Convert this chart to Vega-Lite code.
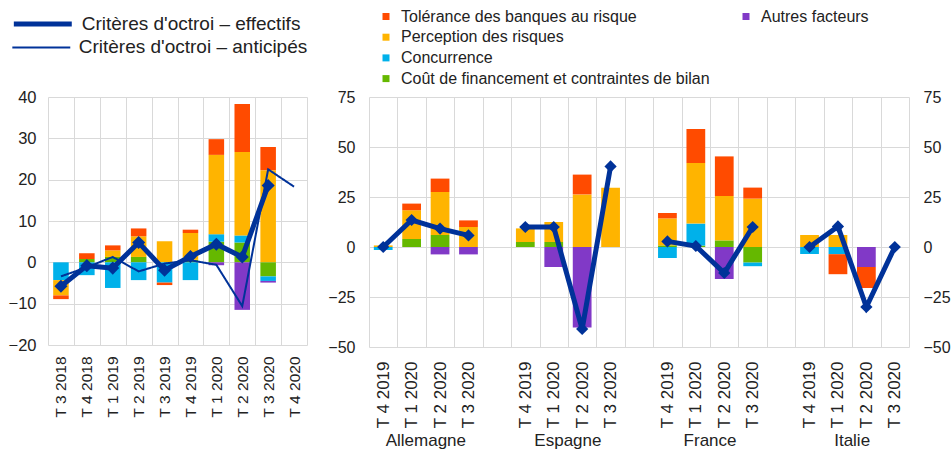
{
  "$schema": "https://vega.github.io/schema/vega-lite/v6.json",
  "background": "white",
  "padding": 8,
  "config": {
    "font": "Liberation Sans",
    "view": {"stroke": null},
    "axis": {"labelColor": "#222222", "gridColor": "#d9d9d9", "domain": false, "ticks": false, "title": null},
    "legend": {"labelColor": "#222222", "title": null, "labelLimit": 500}
  },
  "datasets": {
    "facteurs": [
      {"facteur": "Coût de financement et contraintes de bilan", "rang": 1},
      {"facteur": "Concurrence", "rang": 2},
      {"facteur": "Perception des risques", "rang": 3},
      {"facteur": "Autres facteurs", "rang": 4},
      {"facteur": "Tolérance des banques au risque", "rang": 5}
    ],
    "zone_barres": [
      {"trimestre": "T 3 2018", "facteur": "Concurrence", "valeur": -4.3},
      {"trimestre": "T 3 2018", "facteur": "Perception des risques", "valeur": -3.7},
      {"trimestre": "T 3 2018", "facteur": "Tolérance des banques au risque", "valeur": -0.9},
      {"trimestre": "T 4 2018", "facteur": "Coût de financement et contraintes de bilan", "valeur": 0.8},
      {"trimestre": "T 4 2018", "facteur": "Tolérance des banques au risque", "valeur": 1.4},
      {"trimestre": "T 4 2018", "facteur": "Concurrence", "valeur": -3.1},
      {"trimestre": "T 1 2019", "facteur": "Coût de financement et contraintes de bilan", "valeur": 1.3},
      {"trimestre": "T 1 2019", "facteur": "Perception des risques", "valeur": 1.6},
      {"trimestre": "T 1 2019", "facteur": "Tolérance des banques au risque", "valeur": 1.2},
      {"trimestre": "T 1 2019", "facteur": "Concurrence", "valeur": -6.2},
      {"trimestre": "T 2 2019", "facteur": "Coût de financement et contraintes de bilan", "valeur": 1.3},
      {"trimestre": "T 2 2019", "facteur": "Perception des risques", "valeur": 5.0},
      {"trimestre": "T 2 2019", "facteur": "Tolérance des banques au risque", "valeur": 1.9},
      {"trimestre": "T 2 2019", "facteur": "Concurrence", "valeur": -4.3},
      {"trimestre": "T 3 2019", "facteur": "Perception des risques", "valeur": 5.1},
      {"trimestre": "T 3 2019", "facteur": "Concurrence", "valeur": -4.9},
      {"trimestre": "T 3 2019", "facteur": "Tolérance des banques au risque", "valeur": -0.6},
      {"trimestre": "T 4 2019", "facteur": "Coût de financement et contraintes de bilan", "valeur": 0.6},
      {"trimestre": "T 4 2019", "facteur": "Perception des risques", "valeur": 6.5},
      {"trimestre": "T 4 2019", "facteur": "Tolérance des banques au risque", "valeur": 0.8},
      {"trimestre": "T 4 2019", "facteur": "Concurrence", "valeur": -4.3},
      {"trimestre": "T 1 2020", "facteur": "Coût de financement et contraintes de bilan", "valeur": 5.0},
      {"trimestre": "T 1 2020", "facteur": "Concurrence", "valeur": 1.8},
      {"trimestre": "T 1 2020", "facteur": "Perception des risques", "valeur": 19.2},
      {"trimestre": "T 1 2020", "facteur": "Tolérance des banques au risque", "valeur": 3.8},
      {"trimestre": "T 1 2020", "facteur": "Autres facteurs", "valeur": -0.7},
      {"trimestre": "T 2 2020", "facteur": "Coût de financement et contraintes de bilan", "valeur": 4.8},
      {"trimestre": "T 2 2020", "facteur": "Concurrence", "valeur": 1.7},
      {"trimestre": "T 2 2020", "facteur": "Perception des risques", "valeur": 20.2},
      {"trimestre": "T 2 2020", "facteur": "Tolérance des banques au risque", "valeur": 11.6},
      {"trimestre": "T 2 2020", "facteur": "Autres facteurs", "valeur": -11.5},
      {"trimestre": "T 3 2020", "facteur": "Perception des risques", "valeur": 22.3},
      {"trimestre": "T 3 2020", "facteur": "Tolérance des banques au risque", "valeur": 5.6},
      {"trimestre": "T 3 2020", "facteur": "Coût de financement et contraintes de bilan", "valeur": -3.4},
      {"trimestre": "T 3 2020", "facteur": "Concurrence", "valeur": -1.1},
      {"trimestre": "T 3 2020", "facteur": "Autres facteurs", "valeur": -0.4}
    ],
    "zone_effectifs": [
      {"trimestre": "T 3 2018", "serie": "Critères d'octroi – effectifs", "valeur": -5.8},
      {"trimestre": "T 4 2018", "serie": "Critères d'octroi – effectifs", "valeur": -0.8},
      {"trimestre": "T 1 2019", "serie": "Critères d'octroi – effectifs", "valeur": -1.4},
      {"trimestre": "T 2 2019", "serie": "Critères d'octroi – effectifs", "valeur": 4.8},
      {"trimestre": "T 3 2019", "serie": "Critères d'octroi – effectifs", "valeur": -1.9},
      {"trimestre": "T 4 2019", "serie": "Critères d'octroi – effectifs", "valeur": 1.4},
      {"trimestre": "T 1 2020", "serie": "Critères d'octroi – effectifs", "valeur": 4.4},
      {"trimestre": "T 2 2020", "serie": "Critères d'octroi – effectifs", "valeur": 1.3},
      {"trimestre": "T 3 2020", "serie": "Critères d'octroi – effectifs", "valeur": 18.6}
    ],
    "zone_anticipes": [
      {"trimestre": "T 3 2018", "serie": "Critères d'octroi – anticipés", "valeur": -3.4},
      {"trimestre": "T 4 2018", "serie": "Critères d'octroi – anticipés", "valeur": -1.2},
      {"trimestre": "T 1 2019", "serie": "Critères d'octroi – anticipés", "valeur": 1.3},
      {"trimestre": "T 2 2019", "serie": "Critères d'octroi – anticipés", "valeur": -2.2},
      {"trimestre": "T 3 2019", "serie": "Critères d'octroi – anticipés", "valeur": -0.3},
      {"trimestre": "T 4 2019", "serie": "Critères d'octroi – anticipés", "valeur": 0.5},
      {"trimestre": "T 1 2020", "serie": "Critères d'octroi – anticipés", "valeur": -0.6},
      {"trimestre": "T 2 2020", "serie": "Critères d'octroi – anticipés", "valeur": -10.6},
      {"trimestre": "T 3 2020", "serie": "Critères d'octroi – anticipés", "valeur": 22.5},
      {"trimestre": "T 4 2020", "serie": "Critères d'octroi – anticipés", "valeur": 18.3}
    ],
    "pays_barres": [
      {"slot": "T 4 2019", "facteur": "Perception des risques", "valeur": 0.8},
      {"slot": "T 4 2019", "facteur": "Concurrence", "valeur": -1.5},
      {"slot": "T 1 2020", "facteur": "Coût de financement et contraintes de bilan", "valeur": 4.0},
      {"slot": "T 1 2020", "facteur": "Perception des risques", "valeur": 14.4},
      {"slot": "T 1 2020", "facteur": "Tolérance des banques au risque", "valeur": 3.3},
      {"slot": "T 2 2020", "facteur": "Coût de financement et contraintes de bilan", "valeur": 6.0},
      {"slot": "T 2 2020", "facteur": "Perception des risques", "valeur": 21.5},
      {"slot": "T 2 2020", "facteur": "Tolérance des banques au risque", "valeur": 6.7},
      {"slot": "T 2 2020", "facteur": "Autres facteurs", "valeur": -3.7},
      {"slot": "T 3 2020", "facteur": "Perception des risques", "valeur": 10.0},
      {"slot": "T 3 2020", "facteur": "Tolérance des banques au risque", "valeur": 3.3},
      {"slot": "T 3 2020", "facteur": "Autres facteurs", "valeur": -3.7},
      {"slot": " T 4 2019", "facteur": "Coût de financement et contraintes de bilan", "valeur": 2.5},
      {"slot": " T 4 2019", "facteur": "Perception des risques", "valeur": 6.8},
      {"slot": " T 1 2020", "facteur": "Coût de financement et contraintes de bilan", "valeur": 2.5},
      {"slot": " T 1 2020", "facteur": "Perception des risques", "valeur": 10.0},
      {"slot": " T 1 2020", "facteur": "Autres facteurs", "valeur": -10.0},
      {"slot": " T 2 2020", "facteur": "Perception des risques", "valeur": 26.3},
      {"slot": " T 2 2020", "facteur": "Tolérance des banques au risque", "valeur": 9.9},
      {"slot": " T 2 2020", "facteur": "Autres facteurs", "valeur": -40.3},
      {"slot": " T 3 2020", "facteur": "Perception des risques", "valeur": 29.6},
      {"slot": "  T 4 2019", "facteur": "Coût de financement et contraintes de bilan", "valeur": 0.8},
      {"slot": "  T 4 2019", "facteur": "Perception des risques", "valeur": 13.5},
      {"slot": "  T 4 2019", "facteur": "Tolérance des banques au risque", "valeur": 2.7},
      {"slot": "  T 4 2019", "facteur": "Concurrence", "valeur": -5.5},
      {"slot": "  T 1 2020", "facteur": "Coût de financement et contraintes de bilan", "valeur": 0.7},
      {"slot": "  T 1 2020", "facteur": "Concurrence", "valeur": 11.0},
      {"slot": "  T 1 2020", "facteur": "Perception des risques", "valeur": 30.3},
      {"slot": "  T 1 2020", "facteur": "Tolérance des banques au risque", "valeur": 17.0},
      {"slot": "  T 2 2020", "facteur": "Coût de financement et contraintes de bilan", "valeur": 3.3},
      {"slot": "  T 2 2020", "facteur": "Perception des risques", "valeur": 22.2},
      {"slot": "  T 2 2020", "facteur": "Tolérance des banques au risque", "valeur": 19.8},
      {"slot": "  T 2 2020", "facteur": "Autres facteurs", "valeur": -16.0},
      {"slot": "  T 3 2020", "facteur": "Perception des risques", "valeur": 24.2},
      {"slot": "  T 3 2020", "facteur": "Tolérance des banques au risque", "valeur": 5.5},
      {"slot": "  T 3 2020", "facteur": "Coût de financement et contraintes de bilan", "valeur": -7.8},
      {"slot": "  T 3 2020", "facteur": "Concurrence", "valeur": -1.8},
      {"slot": "   T 4 2019", "facteur": "Perception des risques", "valeur": 6.0},
      {"slot": "   T 4 2019", "facteur": "Concurrence", "valeur": -3.5},
      {"slot": "   T 1 2020", "facteur": "Perception des risques", "valeur": 6.0},
      {"slot": "   T 1 2020", "facteur": "Concurrence", "valeur": -3.6},
      {"slot": "   T 1 2020", "facteur": "Tolérance des banques au risque", "valeur": -10.0},
      {"slot": "   T 2 2020", "facteur": "Autres facteurs", "valeur": -10.0},
      {"slot": "   T 2 2020", "facteur": "Tolérance des banques au risque", "valeur": -10.5}
    ],
    "pays_lignes": [
      {"slot": "T 4 2019", "pays": "Allemagne", "valeur": 0},
      {"slot": "T 1 2020", "pays": "Allemagne", "valeur": 13.5},
      {"slot": "T 2 2020", "pays": "Allemagne", "valeur": 9.2},
      {"slot": "T 3 2020", "pays": "Allemagne", "valeur": 5.8},
      {"slot": " T 4 2019", "pays": "Espagne", "valeur": 10},
      {"slot": " T 1 2020", "pays": "Espagne", "valeur": 10},
      {"slot": " T 2 2020", "pays": "Espagne", "valeur": -41},
      {"slot": " T 3 2020", "pays": "Espagne", "valeur": 40.3},
      {"slot": "  T 4 2019", "pays": "France", "valeur": 2.8},
      {"slot": "  T 1 2020", "pays": "France", "valeur": 0.5},
      {"slot": "  T 2 2020", "pays": "France", "valeur": -13},
      {"slot": "  T 3 2020", "pays": "France", "valeur": 10},
      {"slot": "   T 4 2019", "pays": "Italie", "valeur": 0},
      {"slot": "   T 1 2020", "pays": "Italie", "valeur": 10.3},
      {"slot": "   T 2 2020", "pays": "Italie", "valeur": -30},
      {"slot": "   T 3 2020", "pays": "Italie", "valeur": 0}
    ],
    "pays_noms": [
      {"slot": "T 1 2020", "pays": "Allemagne"},
      {"slot": " T 1 2020", "pays": "Espagne"},
      {"slot": "  T 1 2020", "pays": "France"},
      {"slot": "   T 1 2020", "pays": "Italie"}
    ]
  },
  "spacing": 62,
  "bounds": "flush",
  "hconcat": [
    {
      "width": 259,
      "height": 248,
      "layer": [
        {
          "data": {"name": "zone_barres"},
          "transform": [{"lookup": "facteur", "from": {"data": {"name": "facteurs"}, "key": "facteur", "fields": ["rang"]}}],
          "mark": {"type": "bar", "width": {"band": 0.6}},
          "encoding": {
            "x": {"field": "trimestre", "type": "ordinal",
              "scale": {"domain": ["T 3 2018", "T 4 2018", "T 1 2019", "T 2 2019", "T 3 2019", "T 4 2019", "T 1 2020", "T 2 2020", "T 3 2020", "T 4 2020"], "paddingInner": 0, "paddingOuter": 0},
              "axis": {"labelAngle": -90, "tickBand": "extent", "grid": true, "labelFontSize": 15.5, "labelPadding": 11}},
            "y": {"field": "valeur", "type": "quantitative",
              "scale": {"domain": [-20, 40], "nice": false},
              "axis": {"values": [-20, -10, 0, 10, 20, 30, 40], "grid": true, "labelFontSize": 16.5, "labelPadding": 12}},
            "color": {"field": "facteur", "type": "nominal",
              "scale": {"domain": ["Tolérance des banques au risque", "Perception des risques", "Concurrence", "Coût de financement et contraintes de bilan", "Autres facteurs"], "range": ["#ff4b00", "#ffb400", "#00b1ea", "#65b800", "#8139c7"]},
              "legend": {"values": ["Tolérance des banques au risque", "Perception des risques", "Concurrence", "Coût de financement et contraintes de bilan"], "orient": "none", "legendX": 330, "legendY": -88.5, "labelFontSize": 16, "symbolType": "square", "symbolSize": 49, "labelOffset": 7, "rowPadding": 4.7}},
            "order": {"field": "rang", "type": "quantitative", "sort": "ascending"}
          }
        },
        {
          "data": {"name": "zone_barres"},
          "transform": [{"filter": {"field": "facteur", "equal": "Autres facteurs"}}],
          "mark": {"type": "point", "filled": true, "opacity": 0, "size": 1},
          "encoding": {
            "x": {"field": "trimestre", "type": "ordinal"},
            "y": {"field": "valeur", "type": "quantitative"},
            "fill": {"field": "facteur", "type": "nominal",
              "scale": {"domain": ["Autres facteurs"], "range": ["#8139c7"]},
              "legend": {"orient": "none", "legendX": 690, "legendY": -88.5, "labelFontSize": 16, "symbolType": "square", "symbolSize": 49, "symbolOpacity": 1, "labelOffset": 7}}
          }
        },
        {
          "data": {"name": "zone_anticipes"},
          "mark": {"type": "line", "strokeWidth": 2, "color": "#003299"},
          "encoding": {
            "x": {"field": "trimestre", "type": "ordinal"},
            "y": {"field": "valeur", "type": "quantitative"},
            "strokeDash": {"field": "serie", "type": "nominal",
              "scale": {"domain": ["Critères d'octroi – anticipés"], "range": [[1, 0]]},
              "legend": {"orient": "none", "legendX": -17.7, "legendY": -60.6, "symbolType": "M-3,0H3", "symbolSize": 373, "symbolStrokeWidth": 2, "symbolStrokeColor": "#003299", "labelFontSize": 19, "labelOffset": 26.4}}
          }
        },
        {
          "data": {"name": "zone_effectifs"},
          "mark": {"type": "line", "strokeWidth": 5},
          "encoding": {
            "x": {"field": "trimestre", "type": "ordinal"},
            "y": {"field": "valeur", "type": "quantitative"},
            "stroke": {"field": "serie", "type": "nominal",
              "scale": {"domain": ["Critères d'octroi – effectifs"], "range": ["#003299"]},
              "legend": {"orient": "none", "legendX": -17.7, "legendY": -85.6, "symbolType": "M-3,0H3", "symbolSize": 373, "symbolStrokeWidth": 5, "labelFontSize": 19, "labelOffset": 26.4}}
          }
        },
        {
          "data": {"name": "zone_effectifs"},
          "mark": {"type": "point", "shape": "diamond", "filled": true, "size": 170, "color": "#003299", "opacity": 1},
          "encoding": {
            "x": {"field": "trimestre", "type": "ordinal"},
            "y": {"field": "valeur", "type": "quantitative"}
          }
        }
      ]
    },
    {
      "width": 540,
      "height": 250,
      "resolve": {"axis": {"y": "independent"}},
      "layer": [
        {
          "data": {"name": "pays_barres"},
          "transform": [{"lookup": "facteur", "from": {"data": {"name": "facteurs"}, "key": "facteur", "fields": ["rang"]}}],
          "mark": {"type": "bar", "width": {"band": 0.66}},
          "encoding": {
            "x": {"field": "slot", "type": "ordinal",
              "scale": {"domain": ["T 4 2019", "T 1 2020", "T 2 2020", "T 3 2020", " ", " T 4 2019", " T 1 2020", " T 2 2020", " T 3 2020", "  ", "  T 4 2019", "  T 1 2020", "  T 2 2020", "  T 3 2020", "   ", "   T 4 2019", "   T 1 2020", "   T 2 2020", "   T 3 2020"], "paddingInner": 0, "paddingOuter": 0},
              "axis": {"labelAngle": -90, "tickBand": "extent", "grid": true, "labelFontSize": 17, "labelPadding": 14}},
            "y": {"field": "valeur", "type": "quantitative",
              "scale": {"domain": [-50, 75], "nice": false},
              "axis": {"orient": "left", "values": [-50, -25, 0, 25, 50, 75], "grid": true, "labelFontSize": 16, "labelPadding": 14}},
            "color": {"field": "facteur", "type": "nominal"},
            "order": {"field": "rang", "type": "quantitative", "sort": "ascending"}
          }
        },
        {
          "data": {"name": "pays_lignes"},
          "mark": {"type": "line", "color": "#003299", "strokeWidth": 5},
          "encoding": {
            "x": {"field": "slot", "type": "ordinal"},
            "y": {"field": "valeur", "type": "quantitative",
              "axis": {"orient": "right", "values": [-50, -25, 0, 25, 50, 75], "grid": false, "labelFontSize": 16, "labelPadding": 14}},
            "detail": {"field": "pays", "type": "nominal"}
          }
        },
        {
          "data": {"name": "pays_lignes"},
          "mark": {"type": "point", "shape": "diamond", "filled": true, "size": 150, "color": "#003299", "opacity": 1},
          "encoding": {
            "x": {"field": "slot", "type": "ordinal"},
            "y": {"field": "valeur", "type": "quantitative", "axis": null}
          }
        },
        {
          "data": {"name": "pays_noms"},
          "mark": {"type": "text", "dx": 14.2, "dy": 94, "fontSize": 17, "align": "center", "baseline": "middle", "color": "#222222"},
          "encoding": {
            "x": {"field": "slot", "type": "ordinal"},
            "y": {"datum": -50, "type": "quantitative", "axis": null},
            "text": {"field": "pays", "type": "nominal"}
          }
        }
      ]
    }
  ]
}
